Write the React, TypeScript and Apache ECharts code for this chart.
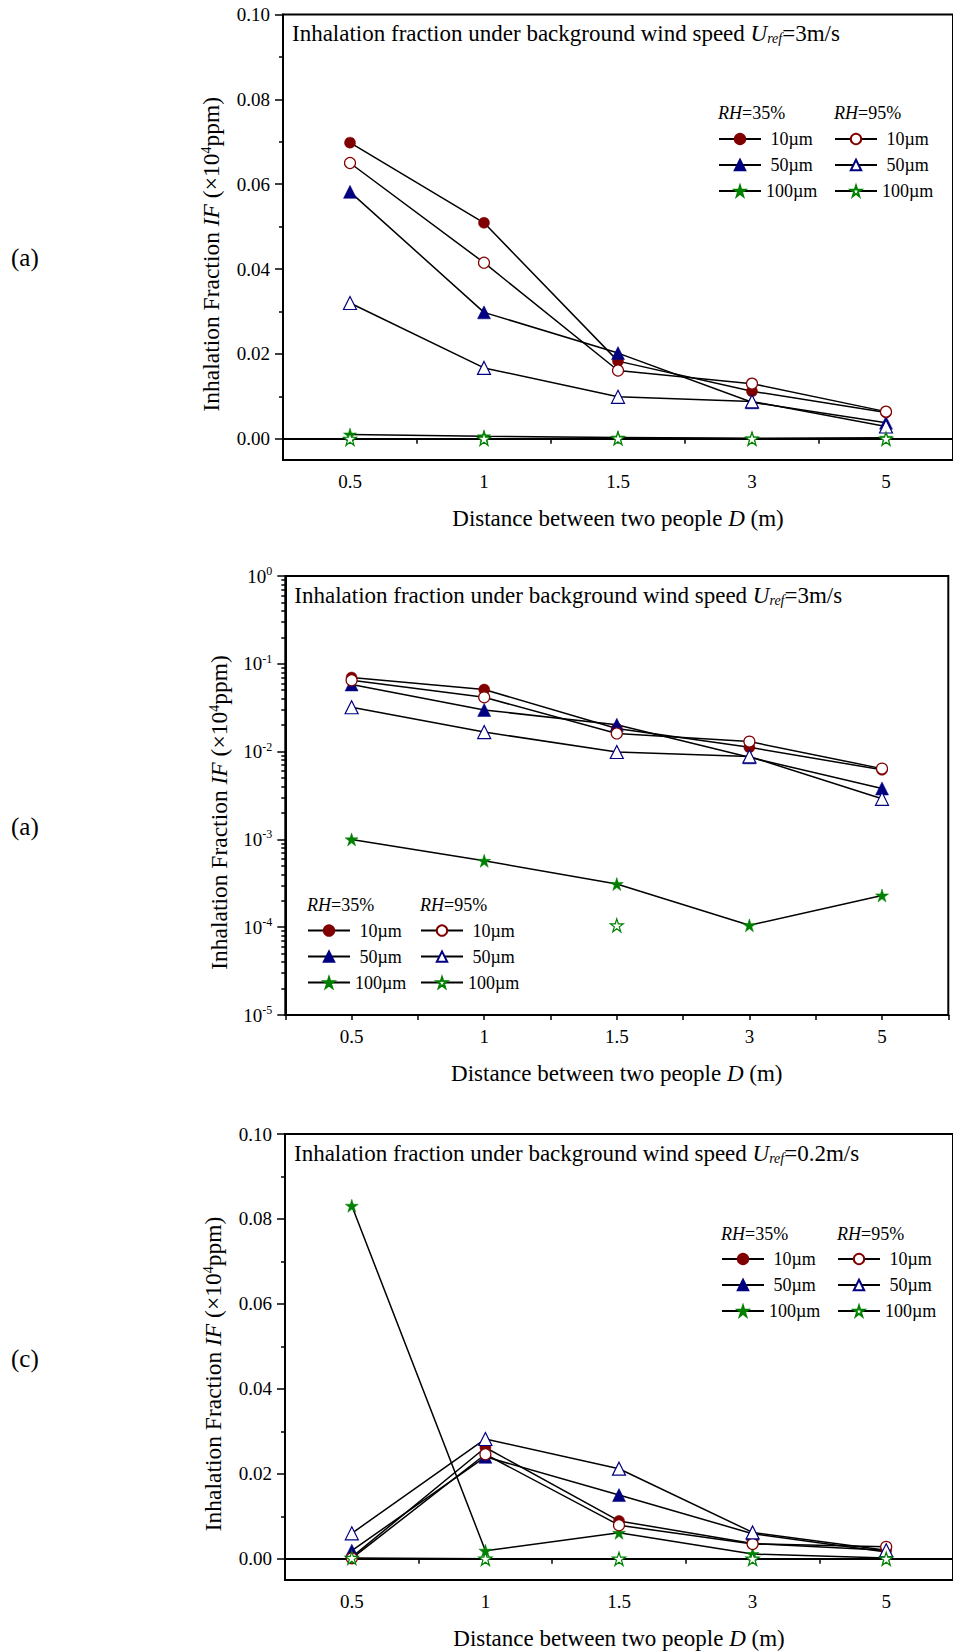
import React, { useEffect, useRef } from 'react';
import * as echarts from 'echarts';

// ---------------- data ----------------
const distances = ['0.5', '1', '1.5', '3', '5'];

// Panel (a): background wind speed Uref = 3 m/s (used in linear and log panels)
const u3Rh35D10 = [0.0698, 0.0509, 0.0183, 0.0112, 0.0062];
const u3Rh35D50 = [0.0582, 0.0298, 0.0202, 0.0086, 0.0038];
const u3Rh35D100 = [0.001, 0.00057, 0.00031, 0.000105, 0.00023];
const u3Rh95D10 = [0.065, 0.0415, 0.0161, 0.013, 0.0064];
const u3Rh95D50 = [0.032, 0.0167, 0.0099, 0.0088, 0.0029];
const u3Rh95D100 = [0, 0, 0.000105, 0, 0];

// Panel (c): background wind speed Uref = 0.2 m/s
const u02Rh35D10 = [0.0004, 0.0262, 0.0089, 0.0036, 0.002];
const u02Rh35D50 = [0.0019, 0.024, 0.015, 0.0059, 0.0016];
const u02Rh35D100 = [0.0831, 0.0019, 0.0061, 0.0011, 0.0002];
const u02Rh95D10 = [0.0001, 0.0246, 0.0079, 0.0035, 0.0028];
const u02Rh95D50 = [0.006, 0.0282, 0.0212, 0.0062, 0.002];
const u02Rh95D100 = [0.0002, 0, 0, 0, 0];

const linearTicks = [0, 0.02, 0.04, 0.06, 0.08, 0.1];
const linearMinorTicks = [0.01, 0.03, 0.05, 0.07, 0.09];
const logTicks = [1e-5, 1e-4, 1e-3, 1e-2, 1e-1, 1];
const logMinorFactors = [2, 3, 4, 5, 6, 7, 8, 9];

const panelLabels = ['(a)', '(a)', '(c)'];
const windSpeeds = ['3m/s', '3m/s', '0.2m/s'];
const sizeLabels = ['10µm', '50µm', '100µm'];

// ---------------- styles ----------------
const FONT = "'Liberation Serif', 'Times New Roman', serif";
const STAR =
  'path://M50,2 L61.2,36.5 L97.6,36.5 L68.2,57.9 L79.4,92.5 L50,71.1 L20.6,92.5 L31.8,57.9 L2.4,36.5 L38.8,36.5 Z';
const KIND_COLOR: Record<string, string> = { circle: '#800000', triangle: '#000080', star: '#008000' };
const KIND_SIZE: Record<string, number> = { circle: 11, triangle: 13, star: 13 };
const KINDS = ['circle', 'triangle', 'star'];

const grids = [
  { left: 283, top: 14.5, width: 672, height: 445.5 },
  { left: 285.3, top: 576, width: 663, height: 439 },
  { left: 285, top: 1134, width: 672, height: 446 },
];

const legendPos = [
  { c1: 718, c2: 834, hy: 113.5, ry: 139 },
  { c1: 307, c2: 420, hy: 906, ry: 930.6 },
  { c1: 721, c2: 837, hy: 1235, ry: 1259 },
];

const panelLabelY = [258, 826.6, 1358.5];

function makeSeries(name: string, data: any[], g: number, kind: string, filled: boolean) {
  const c = KIND_COLOR[kind];
  return {
    type: 'line',
    name,
    data,
    xAxisIndex: g * 2,
    yAxisIndex: g * 2,
    symbol: kind === 'star' ? STAR : kind,
    symbolSize: KIND_SIZE[kind],
    showSymbol: true,
    showAllSymbol: true,
    connectNulls: false,
    silent: true,
    emphasis: { disabled: true },
    lineStyle: { color: '#000', width: 1.5 },
    itemStyle: filled
      ? { color: c, borderColor: c, borderWidth: 0.5 }
      : { color: '#fff', borderColor: c, borderWidth: 1.2 },
  };
}

const tickLine = { color: '#000', width: 1.5 };
const tickText = { fontFamily: FONT, fontSize: 19, fontWeight: 'normal', color: '#000' };

export default function App() {
  const ref = useRef<HTMLDivElement>(null);

  useEffect(() => {
    if (!ref.current) return;
    const chart = echarts.init(ref.current, undefined, { renderer: 'svg' });

    const panels = [
      { rh35: [u3Rh35D10, u3Rh35D50, u3Rh35D100], rh95: [u3Rh95D10, u3Rh95D50, u3Rh95D100], log: false },
      { rh35: [u3Rh35D10, u3Rh35D50, u3Rh35D100], rh95: [u3Rh95D10, u3Rh95D50, u3Rh95D100], log: true },
      { rh35: [u02Rh35D10, u02Rh35D50, u02Rh35D100], rh95: [u02Rh95D10, u02Rh95D50, u02Rh95D100], log: false },
    ];

    const logMinorTicks: number[] = [];
    logTicks.slice(0, -1).forEach((d) => logMinorFactors.forEach((f) => logMinorTicks.push(d * f)));

    const series: any[] = [];
    const legends: any[] = [];
    const titles: any[] = [];
    const xAxes: any[] = [];
    const yAxes: any[] = [];

    const mkRich = (size: number) => ({
      n: { fontFamily: FONT, fontSize: size, fontWeight: 'normal', color: '#000' },
      i: { fontFamily: FONT, fontSize: size, fontWeight: 'normal', fontStyle: 'italic', color: '#000' },
      s: { fontFamily: FONT, fontSize: Math.round(size * 0.6), fontWeight: 'normal', color: '#000', padding: [0, 0, 10, 0] },
      sub: {
        fontFamily: FONT,
        fontSize: Math.round(size * 0.6),
        fontWeight: 'normal',
        fontStyle: 'italic',
        color: '#000',
        padding: [10, 0, 0, 0],
      },
    });
    const titleRich = mkRich(23);
    const xNameRich = mkRich(23);
    const yNameRich = mkRich(23.5);

    panels.forEach((p, g) => {
      const conv = (arr: number[]) => (p.log ? arr.map((v) => (v > 0 ? v : '-')) : arr);
      const names35: string[] = [];
      const names95: string[] = [];
      KINDS.forEach((k, i) => {
        const n = `p${g} 35 ${sizeLabels[i]}`;
        names35.push(n);
        series.push(makeSeries(n, conv(p.rh35[i]), g, k, true));
      });
      KINDS.forEach((k, i) => {
        const n = `p${g} 95 ${sizeLabels[i]}`;
        names95.push(n);
        series.push(makeSeries(n, conv(p.rh95[i]), g, k, false));
      });

      const lp = legendPos[g];
      const legendCommon = {
        orient: 'vertical',
        padding: 0,
        itemWidth: 42,
        itemHeight: 13,
        itemGap: 6,
        selectedMode: false,
        textStyle: { fontFamily: FONT, fontSize: 18, fontWeight: 'normal', color: '#000', lineHeight: 20 },
        formatter: (name: string) => {
          const s = name.split(' ')[2];
          return s === '100µm' ? s : ' ' + s;
        },
      };
      legends.push({ ...legendCommon, left: lp.c1, top: lp.ry - 10, data: names35 });
      legends.push({ ...legendCommon, left: lp.c2, top: lp.ry - 10, data: names95 });

      const rhRich = {
        i: { fontFamily: FONT, fontSize: 18, fontWeight: 'normal', fontStyle: 'italic', color: '#000' },
        n: { fontFamily: FONT, fontSize: 18, fontWeight: 'normal', color: '#000' },
      };
      titles.push({
        text: '{i|RH}{n|=35%}',
        left: lp.c1,
        top: lp.hy - 10,
        padding: 0,
        textStyle: { fontWeight: 'normal', fontFamily: FONT, rich: rhRich },
      });
      titles.push({
        text: '{i|RH}{n|=95%}',
        left: lp.c2,
        top: lp.hy - 10,
        padding: 0,
        textStyle: { fontWeight: 'normal', fontFamily: FONT, rich: rhRich },
      });

      const gr = grids[g];
      titles.push({
        text: `{n|Inhalation fraction under background wind speed }{i|U}{sub|ref}{n|=${windSpeeds[g]}}`,
        left: gr.left + 9,
        top: gr.top + 7,
        padding: 0,
        textStyle: { fontWeight: 'normal', fontFamily: FONT, rich: titleRich },
      });
      titles.push({
        text: panelLabels[g],
        left: 11,
        top: panelLabelY[g] - 13,
        padding: 0,
        textStyle: { fontFamily: FONT, fontSize: 25, fontWeight: 'normal', color: '#000' },
      });

      xAxes.push({
        type: 'category',
        gridIndex: g,
        data: distances,
        position: 'bottom',
        boundaryGap: true,
        axisLine: { show: true, lineStyle: { color: '#000', width: 2 } },
        axisTick: { show: true, alignWithLabel: true, length: 5, lineStyle: tickLine },
        axisLabel: {
          ...tickText,
          margin: 12,
          formatter: (v: string) => `{t|${v}}`,
          rich: { t: tickText },
        },
        splitLine: { show: false },
        name: '{n|Distance between two people }{i|D}{n| (m)}',
        nameLocation: 'middle',
        nameGap: 47,
        nameTextStyle: { fontFamily: FONT, fontWeight: 'normal', rich: xNameRich },
      });
      xAxes.push({
        type: 'category',
        gridIndex: g,
        data: distances,
        position: 'bottom',
        boundaryGap: true,
        axisLine: { show: false },
        axisTick: { show: true, alignWithLabel: false, length: 5, lineStyle: tickLine },
        axisLabel: { show: false },
        splitLine: { show: false },
      });

      const yName = '{n|Inhalation Fraction }{i|IF}{n| (×10}{s|4}{n|ppm)}';
      if (p.log) {
        yAxes.push({
          type: 'log',
          logBase: 10,
          gridIndex: g,
          min: 1e-5,
          max: 1,
          position: 'left',
          axisLine: { show: true, lineStyle: { color: '#000', width: 2 } },
          axisTick: { show: true, length: 8, customValues: logTicks, lineStyle: tickLine },
          axisLabel: {
            ...tickText,
            customValues: logTicks,
            margin: 13,
            formatter: (v: number) => `{b|10}{e|${Math.round(Math.log10(v))}}`,
            rich: {
              b: tickText,
              e: { fontFamily: FONT, fontSize: 12, fontWeight: 'normal', color: '#000', padding: [0, 0, 10, 0] },
            },
          },
          splitLine: { show: false },
          name: yName,
          nameLocation: 'middle',
          nameRotate: 90,
          nameGap: 54,
          nameTextStyle: { fontFamily: FONT, fontWeight: 'normal', rich: yNameRich, padding: [0, 34, 0, 0] },
        });
        yAxes.push({
          type: 'log',
          logBase: 10,
          gridIndex: g,
          min: 1e-5,
          max: 1,
          position: 'left',
          axisLine: { show: false },
          axisTick: { show: true, length: 4, customValues: logMinorTicks, lineStyle: tickLine },
          axisLabel: { show: false },
          splitLine: { show: false },
        });
      } else {
        yAxes.push({
          type: 'value',
          gridIndex: g,
          min: -0.005,
          max: 0.1,
          position: 'left',
          axisLine: { show: true, lineStyle: { color: '#000', width: 2 } },
          axisTick: { show: true, length: 8, customValues: linearTicks, lineStyle: tickLine },
          axisLabel: {
            ...tickText,
            customValues: linearTicks,
            margin: 13,
            formatter: (v: number) => `{t|${v.toFixed(2)}}`,
            rich: { t: tickText },
          },
          splitLine: { show: false },
          name: yName,
          nameLocation: 'middle',
          nameRotate: 90,
          nameGap: 60,
          nameTextStyle: { fontFamily: FONT, fontWeight: 'normal', rich: yNameRich, padding: [0, 34, 0, 0] },
        });
        yAxes.push({
          type: 'value',
          gridIndex: g,
          min: -0.005,
          max: 0.1,
          position: 'left',
          axisLine: { show: false },
          axisTick: { show: true, length: 4, customValues: linearMinorTicks, lineStyle: tickLine },
          axisLabel: { show: false },
          splitLine: { show: false },
        });
      }
    });

    chart.setOption({
      animation: false,
      backgroundColor: '#fff',
      textStyle: { fontFamily: FONT, fontWeight: 'normal' },
      grid: grids.map((gr) => ({ ...gr, show: true, borderColor: '#000', borderWidth: 2, backgroundColor: 'transparent' })),
      xAxis: xAxes,
      yAxis: yAxes,
      legend: legends,
      title: titles,
      series,
    });

    return () => chart.dispose();
  }, []);

  return (
    <div
      ref={ref}
      style={{ position: 'absolute', left: 0, top: 0, width: 953, height: 1652, background: '#fff' }}
    />
  );
}
